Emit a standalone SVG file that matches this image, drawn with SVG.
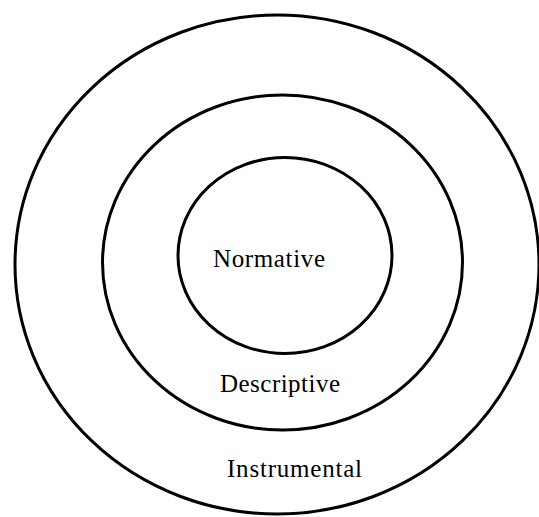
<svg xmlns="http://www.w3.org/2000/svg" width="539" height="517" viewBox="0 0 539 517">
<style>
.ring{fill:none;stroke:#000;stroke-width:3}
.lbl{font-family:"Liberation Serif","Times New Roman",serif;font-size:25px;fill:#000}
</style>
<rect width="539" height="517" fill="#fff"/>
<g id="instrumental">
<ellipse class="ring" cx="277" cy="264.5" rx="262" ry="249.5"/>
<text class="lbl" x="227" y="477" textLength="135">Instrumental</text>
</g>
<g id="descriptive">
<ellipse class="ring" cx="282.5" cy="262.5" rx="180" ry="167.5" stroke-width="2.6"/>
<text class="lbl" x="220" y="392" textLength="120">Descriptive</text>
</g>
<g id="normative">
<ellipse class="ring" cx="285" cy="255.5" rx="107" ry="98" stroke-width="2.6"/>
<text class="lbl" x="213" y="267" textLength="112">Normative</text>
</g>
<g id="connectors"/>
</svg>
